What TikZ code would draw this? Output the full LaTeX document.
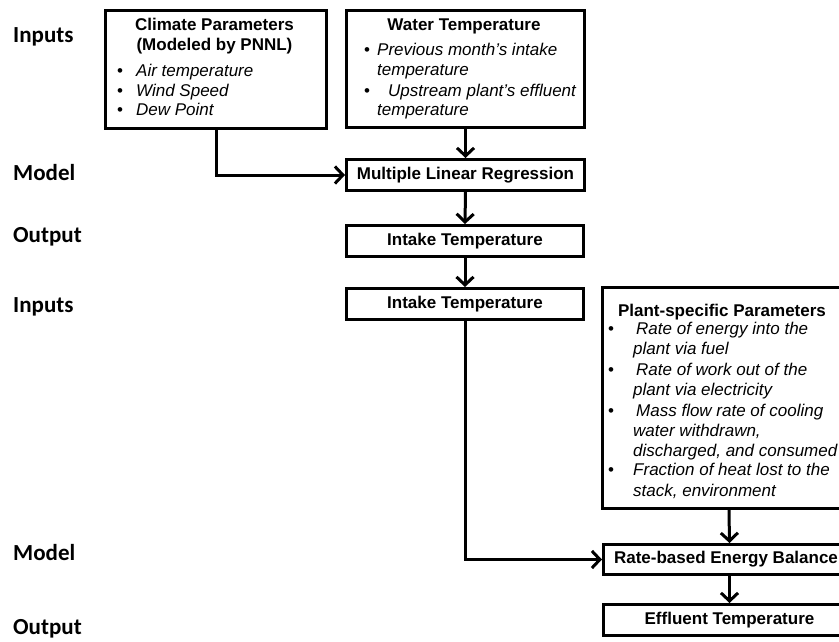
\documentclass[tikz,border=0pt]{standalone}
\usepackage{fontspec}
\setmainfont{Liberation Sans}
\newfontfamily\lblfont{Carlito}
\usetikzlibrary{arrows.meta}
\tikzset{
  box/.style={draw=black, line width=3pt, rectangle, inner sep=0pt, anchor=north west},
  conn/.style={draw=black, line width=3pt, -{Straight Barb[length=8pt,width=17pt,line width=3pt]}},
  sidelabel/.style={anchor=west, inner sep=0pt, font=\lblfont\fontsize{23}{23}\selectfont\bfseries},
  ttl/.style={anchor=base, inner sep=0pt, font=\fontsize{17}{17}\selectfont\bfseries},
  itm/.style={anchor=base west, inner sep=0pt, font=\fontsize{17}{17}\selectfont\itshape},
  bul/.style={anchor=base west, inner sep=0pt, font=\fontsize{17}{17}\selectfont},
  onebox/.style={box, font=\fontsize{17}{17}\selectfont\bfseries, align=center}
}
\begin{document}
\begin{tikzpicture}[x=1pt,y=-1pt]
\useasboundingbox (0,0) rectangle (839,642);
% side labels
\node[sidelabel] (l1) at (13,37) {Inputs};
\node[sidelabel] (l2) at (13,173) {Model};
\node[sidelabel] (l3) at (13,237) {Output};
\node[sidelabel] (l4) at (13,307) {Inputs};
\node[sidelabel] (l5) at (13,553) {Model};
\node[sidelabel] (l6) at (13,629) {Output};

% Climate box
\node[box, minimum width=221pt, minimum height=118pt] (clim) at (104,9) {};
\node[ttl] (c1) at (214.5,31) {Climate Parameters};
\node[ttl] (c2) at (214.5,51) {(Modeled by PNNL)};
\node[bul] (cb1) at (117,77) {•};
\node[itm] (ci1) at (136,77) {Air temperature};
\node[bul] (cb2) at (117,97) {•};
\node[itm] (ci2) at (136,97) {Wind Speed};
\node[bul] (cb3) at (117,116) {•};
\node[itm] (ci3) at (136,116) {Dew Point};

% Water box
\node[box, minimum width=238pt, minimum height=117pt] (water) at (345,9) {};
\node[ttl] (w1) at (464,31) {Water Temperature};
\node[bul] (wb1) at (364,56) {•};
\node[itm] (wi1) at (377,56) {Previous month’s intake};
\node[itm] (wi2) at (377,76) {temperature};
\node[bul] (wb2) at (364,96) {•};
\node[itm] (wi3) at (388,96) {Upstream plant’s effluent};
\node[itm] (wi4) at (377,116) {temperature};

% single-line boxes
\node[onebox, minimum width=238pt, minimum height=31pt] (mlr) at (345,158) {Multiple Linear Regression};
\node[onebox, minimum width=237pt, minimum height=31pt] (int1) at (345,224) {Intake Temperature};
\node[onebox, minimum width=237pt, minimum height=31pt] (int2) at (345,287) {Intake Temperature};

% Plant box
\node[box, minimum width=253pt, minimum height=221pt] (plant) at (601,286) {};
\node[ttl] (p1) at (722,316) {Plant-specific Parameters};
\node[bul] (pb1) at (608,334) {•};
\node[itm] (pi1) at (636,334) {Rate of energy into the};
\node[itm] (pi2) at (633,354) {plant via fuel};
\node[bul] (pb2) at (608,375) {•};
\node[itm] (pi3) at (636,375) {Rate of work out of the};
\node[itm] (pi4) at (633,395) {plant via electricity};
\node[bul] (pb3) at (608,416) {•};
\node[itm] (pi5) at (636,416) {Mass flow rate of cooling};
\node[itm] (pi6) at (633,436) {water withdrawn,};
\node[itm] (pi7) at (633,456) {discharged, and consumed};
\node[bul] (pb4) at (608,475) {•};
\node[itm] (pi8) at (633,475) {Fraction of heat lost to the};
\node[itm] (pi9) at (633,496) {stack, environment};

\node[onebox, minimum width=252pt, minimum height=30pt] (rate) at (602,543) {\hspace*{-7pt}Rate-based Energy Balance};
\node[onebox, minimum width=252pt, minimum height=31pt] (eff) at (602,603) {Effluent Temperature};

% connectors
\draw[conn] (clim.south) |- (mlr.west);
\draw[conn] (water.south) -- (mlr.north);
\draw[conn] (mlr.south) -- (int1.north);
\draw[conn] (int1.south) -- (int2.north);
\draw[conn] (int2.south) |- (rate.west);
\draw[conn] (plant.south) -- (rate.north);
\draw[conn] (rate.south) -- (eff.north);
\end{tikzpicture}
\end{document}
